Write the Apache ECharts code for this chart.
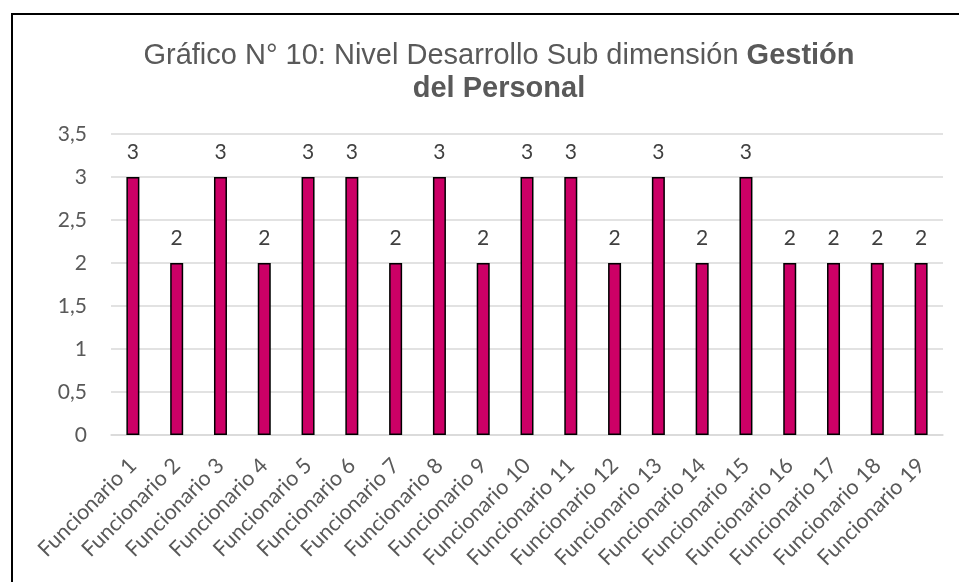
<!DOCTYPE html>
<html>
<head>
<meta charset="utf-8">
<script src="https://cdn.jsdelivr.net/npm/echarts@6/dist/echarts.min.js"></script>
<style>
html,body{margin:0;padding:0;background:#fff;}
#chart{width:959px;height:582px;}
</style>
</head>
<body>
<div id="chart"></div>
<script>
const categories = ['Funcionario 1','Funcionario 2','Funcionario 3','Funcionario 4','Funcionario 5','Funcionario 6','Funcionario 7','Funcionario 8','Funcionario 9','Funcionario 10','Funcionario 11','Funcionario 12','Funcionario 13','Funcionario 14','Funcionario 15','Funcionario 16','Funcionario 17','Funcionario 18','Funcionario 19'];
const values = [3,2,3,2,3,3,2,3,2,3,3,2,3,2,3,2,2,2,2];
const yMin = 0, yMax = 3.5, yStep = 0.5;
const titleLine1 = 'Gráfico N° 10: Nivel Desarrollo Sub dimensión ';
const titleBold1 = 'Gestión';
const titleBold2 = 'del Personal';

const chart = echarts.init(document.getElementById('chart'));
const lblFont = 'Lato, "Noto Sans", sans-serif';
chart.setOption({
  animation: false,
  backgroundColor: '#ffffff',
  graphic: [{
    type: 'rect', z: -10,
    shape: {x: 12, y: 14, width: 1000, height: 1000},
    style: {fill: 'none', stroke: '#000', lineWidth: 2}
  }],
  title: {
    left: 494, top: 34, textAlign: 'center',
    text: '{n|' + titleLine1 + '}{b|' + titleBold1 + '}\n{b|' + titleBold2 + '}',
    textStyle: {
      fontWeight: 'normal',
      rich: {
        n: {fontFamily: '"Liberation Sans", Arial, sans-serif', fontSize: 29, fontWeight: 'normal', color: '#595959', lineHeight: 33},
        b: {fontFamily: '"Liberation Sans", Arial, sans-serif', fontSize: 29, fontWeight: 'bold', color: '#595959', lineHeight: 33}
      }
    }
  },
  grid: {left: 111, right: 16, top: 134, bottom: 147, containLabel: false},
  xAxis: {
    type: 'category', data: categories,
    axisLine: {show: true, lineStyle: {color: '#D9D9D9', width: 1.5}},
    axisTick: {show: false},
    axisLabel: {rotate: 45, margin: 27, interval: 0, fontFamily: lblFont, fontSize: 21.5, color: '#595959'}
  },
  yAxis: {
    type: 'value', min: yMin, max: yMax, interval: yStep,
    axisLine: {show: false}, axisTick: {show: false},
    splitLine: {lineStyle: {color: '#D9D9D9', width: 1.5}},
    axisLabel: {margin: 24, fontFamily: lblFont, fontSize: 21, color: '#595959',
      formatter: v => String(v).replace('.', ',')}
  },
  series: [{
    type: 'bar', data: values, barWidth: 13,
    itemStyle: {color: '#CC0066', borderColor: '#000', borderWidth: 1.5},
    label: {show: true, position: 'top', distance: 14, fontFamily: lblFont, fontSize: 21, color: '#404040'}
  }]
});
</script>
</body>
</html>
